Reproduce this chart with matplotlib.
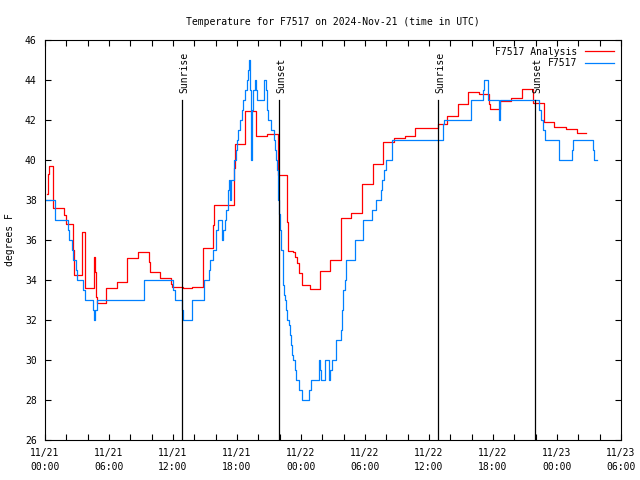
import matplotlib
matplotlib.use('Agg')
import matplotlib.pyplot as plt

# hours since 2024-11-21 00:00 UTC, values in degrees F (step data)
analysis_t = [0.2, 0.3, 0.4, 0.78, 1.81, 1.94, 2.66, 2.75, 3.44, 3.5, 3.78, 4.63, 4.72, 4.81, 4.9,
              5.69, 5.75, 6.72, 7.72, 8.75, 9.72, 9.85, 10.8, 11.8, 11.9, 12.9, 13.8, 14.8, 15.78,
              15.87, 17.75, 17.84, 18.75, 19.75, 20.8, 21.8, 22.66, 22.8, 23.22, 23.44, 23.6, 23.8,
              24.1, 24.84, 25.78, 26.75, 27.78, 28.69, 29.75, 30.78, 31.72, 32.75, 33.75, 34.72,
              36.81, 37.72, 38.75, 39.69, 40.72, 41.6, 41.72, 42.7, 43.69, 44.75, 45.72, 46.78,
              47.72, 48.81, 49.84, 50.72]
analysis_v = [38.3, 39.3, 39.7, 37.6, 37.25, 36.8, 35.5, 34.25, 35.5, 36.4, 33.6, 35.15, 34.4, 33.17, 32.83,
              33.2, 33.6, 33.9, 35.1, 35.4, 34.9, 34.4, 34.1, 33.8, 33.65, 33.6, 33.65, 35.6, 36.75,
              37.75, 39.6, 40.8, 42.45, 41.2, 41.3, 39.25, 36.9, 35.45, 35.4, 35.13, 34.87, 34.33,
              33.75, 33.55, 34.47, 35.0, 37.08, 37.33, 38.8, 39.8, 40.9, 41.08, 41.2, 41.58,
              41.8, 42.2, 42.78, 43.38, 43.3, 42.8, 42.53, 42.97, 43.08, 43.53, 42.83, 41.92,
              41.63, 41.53, 41.35, 41.35]

obs_t = [0.09, 0.97, 2.19, 2.28, 2.56, 2.66, 2.87, 3.03, 3.59, 3.72, 4.53, 4.62, 4.72, 4.84, 9.25,
         12.03, 12.2, 12.81, 12.9, 13.75, 14.9, 15.37, 15.47, 15.78, 16.0, 16.19, 16.56, 16.66,
         16.85, 16.97, 17.13, 17.28, 17.37, 17.47, 17.75, 17.87, 17.97, 18.1, 18.28, 18.45, 18.59,
         18.75, 18.9, 19.0, 19.09, 19.19, 19.28, 19.37, 19.53, 19.69, 19.8, 19.88, 20.53, 20.72,
         20.8, 20.94, 21.2, 21.44, 21.56, 21.69, 21.75, 21.8, 21.87, 21.97, 22.03, 22.15, 22.28,
         22.34, 22.44, 22.52, 22.59, 22.72, 22.85, 22.97, 23.06, 23.19, 23.28, 23.44, 23.53, 23.84,
         24.06, 24.78, 24.9, 25.72, 25.8, 25.87, 26.28, 26.62, 26.75, 26.9, 27.31, 27.75, 27.81,
         27.97, 28.16, 28.22, 29.1, 29.78, 30.7, 31.0, 31.5, 31.62, 31.78, 31.94, 32.5, 32.56,
         37.34, 37.44, 39.94, 41.03, 41.13, 41.56, 42.6, 42.68, 46.34, 46.5, 46.72, 46.88, 48.22,
         49.4, 49.53, 51.34, 51.5, 51.78]
obs_v = [38.0, 37.0, 36.5, 36.0, 35.5, 35.0, 34.5, 34.0, 33.5, 33.0, 32.5, 32.0, 32.5, 33.0, 34.0,
         33.5, 33.0, 32.5, 32.0, 33.0, 34.0, 34.5, 35.0, 35.5, 36.5, 37.0, 36.0, 36.5,
         37.0, 37.5, 38.5, 39.0, 38.0, 39.0, 40.0, 40.5, 41.0, 41.5, 42.0, 42.5, 43.0,
         43.5, 44.0, 44.5, 45.0, 43.5, 40.0, 42.5, 43.5, 44.0, 43.5, 43.0, 44.0, 43.5,
         42.5, 42.0, 41.5, 41.0, 40.5, 40.0, 39.5, 38.5, 38.0, 37.3, 36.5, 35.5, 35.0,
         33.75, 33.25, 33.0, 32.5, 32.0, 31.75, 31.25, 30.75, 30.25, 30.0, 29.5, 29.0, 28.5,
         28.0, 28.5, 29.0, 30.0, 29.5, 29.0, 30.0, 29.0, 29.5, 30.0, 31.0, 31.5, 32.5,
         33.5, 34.0, 35.0, 36.0, 37.0, 37.5, 38.0, 38.5, 39.0, 39.5, 40.0, 40.5, 41.0,
         41.8, 42.0, 43.0, 43.5, 44.0, 43.0, 42.0, 43.0, 42.5, 42.0, 41.5, 41.0, 40.0,
         40.5, 41.0, 40.5, 40.0, 40.0]

sun_t = [12.87, 21.97, 36.87, 45.97]
sun_lbl = ['Sunrise', 'Sunset', 'Sunrise', 'Sunset']

tick_hours = [0, 6, 12, 18, 24, 30, 36, 42, 48, 54]
tick_lbls = ['11/21\n00:00', '11/21\n06:00', '11/21\n12:00', '11/21\n18:00',
             '11/22\n00:00', '11/22\n06:00', '11/22\n12:00', '11/22\n18:00',
             '11/23\n00:00', '11/23\n06:00']

plt.rcParams['font.family'] = ['DejaVu Sans Mono']
plt.rcParams['font.size'] = 7

fig = plt.figure(figsize=(6.4, 4.8), dpi=100)
ax = fig.add_axes([45/640, 40/480, 576/640, 400/480])

ax.plot(analysis_t, analysis_v, drawstyle='steps-post', color='#ff0000', lw=0.9, label='F7517 Analysis')
ax.plot(obs_t, obs_v, drawstyle='steps-post', color='#0080ff', lw=0.9, label='F7517')

for t, lbl in zip(sun_t, sun_lbl):
    ax.plot([t, t], [26, 43], color='black', lw=0.9)
    ax.text(t + 0.15, 43.35, lbl, rotation=90, ha='center', va='bottom')

ax.set_xlim(0, 54)
ax.set_ylim(26, 46)
ax.set_xticks(tick_hours)
ax.set_xticklabels(tick_lbls, linespacing=1.4)
ax.set_xticks(range(0, 55, 2), minor=True)
ax.set_yticks(range(26, 47, 2))
ax.tick_params(which='both', direction='in', top=True, right=True, length=4, width=0.8, pad=6)
for sp in ax.spines.values():
    sp.set_linewidth(0.8)

ax.set_ylabel('degrees F', labelpad=7, fontsize=7)
ax.set_title('Temperature for F7517 on 2024-Nov-21 (time in UTC)', pad=11, fontsize=7)
ax.legend(loc='upper right', frameon=False, markerfirst=False, handlelength=3.0,
          handletextpad=0.8, labelspacing=0.15, borderaxespad=0.3, fontsize=7)

plt.savefig('out.png', dpi=100)
